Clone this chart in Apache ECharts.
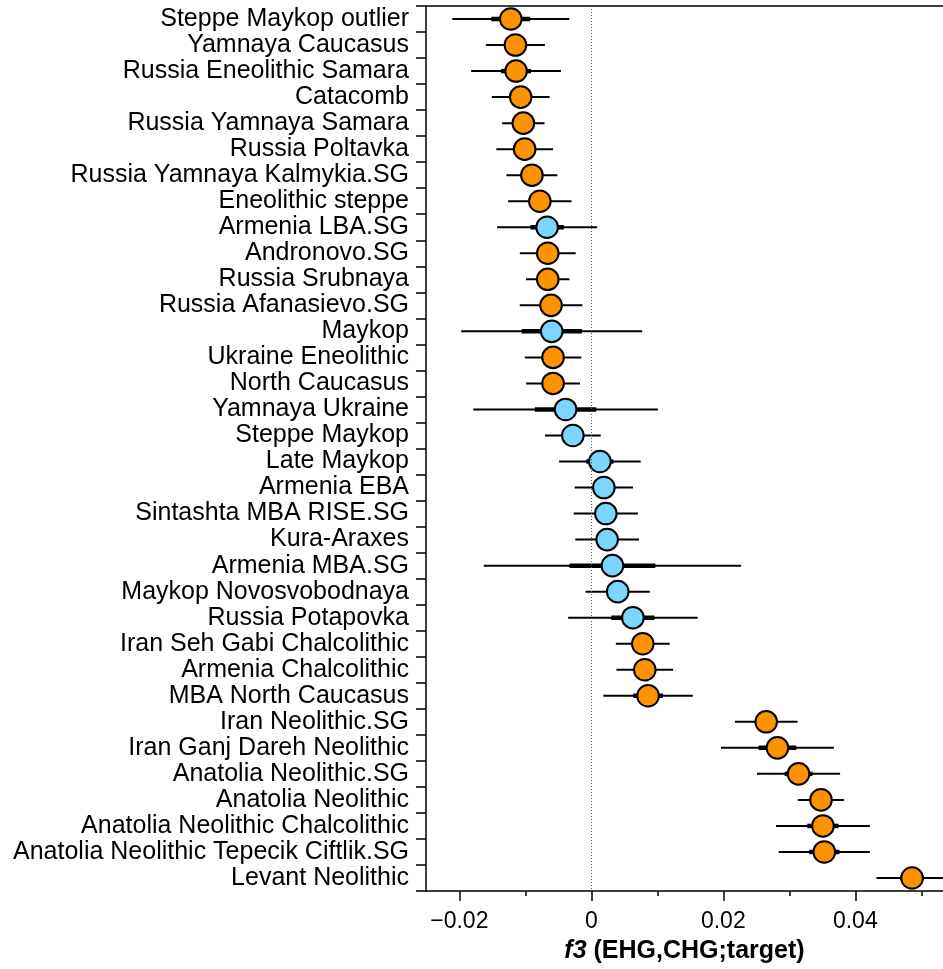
<!DOCTYPE html>
<html>
<head>
<meta charset="utf-8">
<script src="https://cdn.jsdelivr.net/npm/echarts@6/dist/echarts.min.js"></script>
<style>
  html, body { margin: 0; padding: 0; background: #fff; }
  #chart { width: 943px; height: 969px; }
</style>
</head>
<body>
<div id="chart"></div>
<script>
// Populations, top to bottom
const populations = [
  'Steppe Maykop outlier', 'Yamnaya Caucasus', 'Russia Eneolithic Samara', 'Catacomb',
  'Russia Yamnaya Samara', 'Russia Poltavka', 'Russia Yamnaya Kalmykia.SG', 'Eneolithic steppe',
  'Armenia LBA.SG', 'Andronovo.SG', 'Russia Srubnaya', 'Russia Afanasievo.SG', 'Maykop',
  'Ukraine Eneolithic', 'North Caucasus', 'Yamnaya Ukraine', 'Steppe Maykop', 'Late Maykop',
  'Armenia EBA', 'Sintashta MBA RISE.SG', 'Kura-Araxes', 'Armenia MBA.SG',
  'Maykop Novosvobodnaya', 'Russia Potapovka', 'Iran Seh Gabi Chalcolithic',
  'Armenia Chalcolithic', 'MBA North Caucasus', 'Iran Neolithic.SG', 'Iran Ganj Dareh Neolithic',
  'Anatolia Neolithic.SG', 'Anatolia Neolithic', 'Anatolia Neolithic Chalcolithic',
  'Anatolia Neolithic Tepecik Ciftlik.SG', 'Levant Neolithic'
];

// f3 statistic per population
const f3Values = [
  -0.0122, -0.0115, -0.0114, -0.0107, -0.0103, -0.0101, -0.0090, -0.0078,
  -0.0067, -0.0066, -0.0066, -0.0061, -0.0060, -0.0058, -0.0058, -0.0039,
  -0.0028, 0.0013, 0.0019, 0.0022, 0.0024, 0.0032, 0.0040, 0.0063,
  0.0078, 0.0081, 0.0086, 0.0265, 0.0282, 0.0314, 0.0348, 0.0351,
  0.0353, 0.0486
];

// standard errors (thick bar = 1 SE, thin bar = 3 SE)
const stdErrors = [
  0.00295, 0.00149, 0.00227, 0.00146, 0.00107, 0.00143, 0.00129, 0.00160,
  0.00253, 0.00141, 0.00110, 0.00158, 0.00457, 0.00143, 0.00136, 0.00466,
  0.00141, 0.00206, 0.00147, 0.00162, 0.00161, 0.00650, 0.00162, 0.00327,
  0.00136, 0.00143, 0.00226, 0.00158, 0.00285, 0.00210, 0.00117, 0.00237,
  0.00230, 0.00180
];

// 1 = drawn in blue, 0 = orange
const groups = [
  0, 0, 0, 0, 0, 0, 0, 0,
  1, 0, 0, 0, 1, 0, 0, 1,
  1, 1, 1, 1, 1, 1, 1, 1,
  0, 0, 0, 0, 0, 0, 0, 0,
  0, 0
];

const majorTicks = [-0.02, 0, 0.02, 0.04];
const minorTicks = [-0.01, 0.01, 0.03, 0.05];

const X_MIN = -0.02505;
const X_MAX = 0.05329;
const COLORS = ['#FF9200', '#7AD6FF'];
const FONT = '"Liberation Sans", Arial, Helvetica, sans-serif';

function fmtTick(v) {
  if (Math.abs(v) < 1e-12) return '0';
  const s = Math.abs(v).toFixed(2);
  return (v < 0 ? '\u2212' : '') + s;
}

const points = populations.map((name, i) => [i, f3Values[i], stdErrors[i], groups[i]]);

function renderPoint(params, api) {
  const idx = api.value(0);
  const v = api.value(1);
  const se = api.value(2);
  const g = api.value(3);
  const c = api.coord([v, idx]);
  const lo3 = api.coord([v - 3 * se, idx]);
  const hi3 = api.coord([v + 3 * se, idx]);
  const lo1 = api.coord([v - se, idx]);
  const hi1 = api.coord([v + se, idx]);
  return {
    type: 'group',
    children: [
      {
        type: 'line',
        shape: { x1: lo3[0], y1: c[1], x2: hi3[0], y2: c[1] },
        style: { stroke: '#000', lineWidth: 2 }
      },
      {
        type: 'line',
        shape: { x1: lo1[0], y1: c[1], x2: hi1[0], y2: c[1] },
        style: { stroke: '#000', lineWidth: 4.5 }
      },
      {
        type: 'circle',
        shape: { cx: c[0], cy: c[1], r: 10.8 },
        style: { fill: COLORS[g], stroke: '#000', lineWidth: 2 }
      }
    ]
  };
}

const chart = echarts.init(document.getElementById('chart'), null, { renderer: 'canvas' });

chart.setOption({
  animation: false,
  backgroundColor: '#fff',
  grid: {
    left: 426, right: 0, top: 6, bottom: 78,
    containLabel: false,
    outerBoundsMode: 'none'
  },
  xAxis: [
    {
      type: 'value',
      position: 'bottom',
      min: X_MIN,
      max: X_MAX,
      splitLine: { show: false },
      axisLine: { show: true, onZero: false, lineStyle: { color: '#000', width: 1.5 } },
      axisTick: {
        show: true, length: 10, customValues: majorTicks,
        lineStyle: { color: '#000', width: 1.5 }
      },
      axisLabel: {
        show: true, customValues: majorTicks, margin: 19,
        fontFamily: FONT, fontSize: 23, color: '#000',
        formatter: fmtTick
      },
      name: '{i|f3}{b| (EHG,CHG;target)}',
      nameLocation: 'middle',
      nameGap: 48,
      nameTextStyle: {
        rich: {
          i: { fontFamily: FONT, fontSize: 25, fontWeight: 'bold', fontStyle: 'italic', color: '#000' },
          b: { fontFamily: FONT, fontSize: 25, fontWeight: 'bold', color: '#000' }
        }
      }
    },
    {
      type: 'value',
      position: 'bottom',
      min: X_MIN,
      max: X_MAX,
      splitLine: { show: false },
      axisLine: { show: false, onZero: false },
      axisTick: {
        show: true, length: 5, customValues: minorTicks,
        lineStyle: { color: '#000', width: 1.5 }
      },
      axisLabel: { show: false }
    },
    {
      type: 'value',
      position: 'top',
      min: X_MIN,
      max: X_MAX,
      splitLine: { show: false },
      axisLine: { show: true, onZero: false, lineStyle: { color: '#000', width: 1.5 } },
      axisTick: { show: false },
      axisLabel: { show: false }
    }
  ],
  yAxis: {
    type: 'category',
    inverse: true,
    data: populations,
    boundaryGap: true,
    axisLine: { show: true, onZero: false, lineStyle: { color: '#000', width: 1.5 } },
    axisTick: { show: true, length: 10, alignWithLabel: false, lineStyle: { color: '#000', width: 1.5 } },
    axisLabel: {
      interval: 0, margin: 17,
      fontFamily: FONT, fontSize: 25, color: '#000'
    },
    splitLine: { show: false }
  },
  series: [
    {
      // dotted reference line at zero
      type: 'line',
      data: [],
      z: 1,
      silent: true,
      markLine: {
        silent: true,
        symbol: ['none', 'none'],
        label: { show: false },
        lineStyle: { color: '#555', width: 1, type: [1, 2] },
        data: [{ xAxis: 0 }]
      }
    },
    {
      type: 'custom',
      z: 3,
      xAxisIndex: 0,
      yAxisIndex: 0,
      clip: false,
      encode: { x: 1, y: 0 },
      renderItem: renderPoint,
      data: points
    }
  ]
});
</script>
</body>
</html>
